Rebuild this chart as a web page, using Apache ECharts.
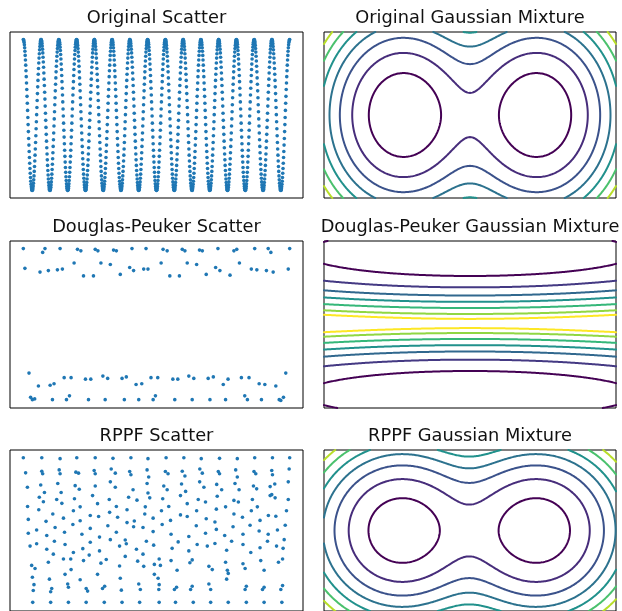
<!DOCTYPE html>
<html><head><meta charset="utf-8">
<script src="https://cdn.jsdelivr.net/npm/echarts@6/dist/echarts.min.js"></script>
<style>html,body{margin:0;padding:0;background:#fff}#c{width:622px;height:611px}</style>
</head><body><div id="c"></div>
<script>
// ---------------- data ----------------
const panelTitles = ['Original Scatter','Original Gaussian Mixture','Douglas-Peuker Scatter','Douglas-Peuker Gaussian Mixture','RPPF Scatter','RPPF Gaussian Mixture'];

// Original signal: cosine sampled uniformly, 15 periods, 1000 samples (x in periods, y in signal units)
const origPeriods = 15;
const origSamples = 1000;

// Douglas-Peuker simplified points
const dpX = [0.00,1.09,1.22,2.07,3.05,3.24,4.05,4.20,5.08,5.24,6.12,6.91,7.87,8.10,8.95,9.10,9.92,10.08,10.96,11.86,12.02,13.03,13.79,13.94,15.00,
 0.09,0.94,1.41,1.92,2.20,2.86,3.39,3.95,4.37,4.90,5.46,5.99,6.21,6.78,7.02,7.76,8.25,8.79,9.23,9.76,10.30,10.83,11.07,11.64,12.17,12.84,13.15,13.69,14.07,14.92,
 0.32,0.85,1.51,1.73,2.30,2.69,3.50,3.80,4.48,4.75,5.56,5.80,6.35,6.67,7.19,7.57,8.42,8.70,9.32,9.60,10.41,10.70,11.26,11.53,12.28,12.71,13.28,13.60,14.22,14.78,
 0.41,0.51,0.64,1.64,2.43,2.60,3.67,4.61,5.69,6.50,7.31,7.44,8.53,9.51,10.51,11.39,12.47,12.62,13.41,14.41,14.50,14.65];
const dpY = [1.00,0.95,1.00,1.00,0.99,0.97,0.99,0.97,0.98,0.97,1.00,1.00,0.99,0.97,0.99,0.97,0.98,0.97,1.00,0.97,0.99,1.00,1.00,0.95,1.00,
 0.74,0.69,0.71,0.72,0.73,0.81,0.64,0.64,0.81,0.79,0.66,0.75,0.71,0.73,0.73,0.81,0.64,0.64,0.81,0.79,0.66,0.75,0.71,0.65,0.81,0.73,0.72,0.71,0.69,0.73,
 -0.64,-0.81,-0.80,-0.78,-0.70,-0.70,-0.72,-0.72,-0.68,-0.71,-0.71,-0.69,-0.79,-0.78,-0.70,-0.70,-0.72,-0.72,-0.68,-0.71,-0.71,-0.69,-0.79,-0.72,-0.70,-0.70,-0.78,-0.79,-0.81,-0.64,
 -0.96,-0.99,-0.98,-0.99,-0.99,-0.94,-0.99,-0.99,-0.99,-0.99,-0.99,-0.94,-0.99,-0.99,-0.99,-0.99,-0.94,-0.99,-0.99,-0.99,-1.00,-0.96];

// RPPF filtered points
const rppfPoints = [
[0,0.995],[1.04,0.995],[2.07,0.982],[3.01,0.995],[4.05,0.995],[5.05,0.986],[6.06,0.995],[7.02,0.982],
[0.13,0.788],[1.04,0.810],[1.09,0.775],[2.02,0.828],[2.07,0.775],[2.96,0.797],[3.11,0.784],[3.99,0.819],[4.05,0.775],[4.95,0.841],[5.18,0.784],[5.99,0.806],[6.06,0.762],[6.97,0.828],[7.06,0.731],
[0.23,0.591],[0.98,0.621],[1.19,0.520],[1.94,0.643],[2.13,0.520],[2.92,0.613],[3.15,0.564],[3.90,0.477],[4.05,0.608],[4.90,0.665],[5.18,0.591],[5.93,0.455],[6.18,0.556],[6.97,0.643],[7.02,0.512],
[0.90,0.455],[1.13,0.393],[1.88,0.424],[2.17,0.371],[2.88,0.433],[3.20,0.323],[4.18,0.367],[4.84,0.424],[5.24,0.327],[5.84,0.283],[6.40,0.415],[6.87,0.323],[7.12,0.446],[0.24,0.327],[0.87,0.283],
[0.28,0.152],[1.28,0.125],[1.66,0.226],[2.26,0.169],[2.82,0.270],[3.20,0.134],[3.77,0.204],[4.24,0.191],[4.86,0.248],[5.31,0.182],[5.84,0.108],[6.25,0.130],[6.84,0.226],[7.31,0.169],
[0.28,-0.037],[0.75,0.007],[1.32,-0.068],[1.79,0.042],[2.32,-0.024],[2.79,0.081],[3.30,-0.051],[3.77,0.029],[4.29,-0.090],[4.76,0.064],[5.24,-0.024],[5.74,-0.130],[6.21,0.051],[6.74,0.042],[7.31,-0.015],
[0.38,-0.213],[0.75,-0.182],[1.32,-0.257],[1.75,-0.147],[2.35,-0.191],[2.82,-0.301],[3.35,-0.248],[3.77,-0.160],[4.29,-0.279],[4.90,-0.125],[5.42,-0.213],[5.80,-0.182],[6.37,-0.257],[6.74,-0.323],[6.93,-0.147],[7.34,-0.200],
[0.47,-0.477],[0.66,-0.520],[1.41,-0.433],[1.69,-0.323],[2.26,-0.389],[2.67,-0.389],[2.69,-0.534],[3.39,-0.411],[3.71,-0.336],[4.37,-0.446],[4.67,-0.397],[5.42,-0.485],[5.74,-0.354],[6.44,-0.419],[6.78,-0.490],[7.38,-0.463],
[0.51,-0.639],[0.60,-0.740],[0.56,-0.819],[1.47,-0.665],[1.60,-0.793],[1.54,-0.837],[2.35,-0.599],[2.50,-0.731],[2.54,-0.775],[3.20,-0.674],[3.54,-0.793],[3.62,-0.828],[4.18,-0.599],[4.46,-0.793],[4.58,-0.762],[5.46,-0.652],[5.52,-0.815],[6.50,-0.731],[6.59,-0.806],[7.38,-0.599],
[0.53,-0.982],[1.54,-0.982],[2.54,-0.982],[3.54,-0.982],[4.56,-0.982],[5.56,-0.982],[6.55,-0.982],
[8.04,0.995],[9.04,0.995],[10.02,0.982],[11.05,0.986],[12.05,0.982],[13.03,0.995],[14.03,0.995],[15.0,0.995],
[8.00,0.806],[8.15,0.775],[8.95,0.810],[9.10,0.744],[9.94,0.841],[10.08,0.784],[10.98,0.806],[11.05,0.775],[11.96,0.828],[12.05,0.731],[12.99,0.806],[13.09,0.775],[13.99,0.819],[14.03,0.762],[14.97,0.841],
[7.91,0.608],[8.10,0.556],[8.91,0.635],[9.14,0.534],[9.93,0.665],[10.17,0.591],[10.89,0.630],[11.17,0.556],[11.92,0.643],[12.15,0.556],[12.96,0.608],[13.14,0.569],[13.90,0.600],[13.99,0.490],[14.16,0.635],[14.92,0.665],
[7.85,0.433],[8.19,0.327],[8.85,0.477],[9.23,0.367],[9.85,0.424],[10.26,0.389],[10.92,0.468],[10.87,0.292],[11.86,0.411],[12.11,0.389],[12.90,0.424],[13.18,0.323],[13.90,0.477],[14.18,0.446],[14.92,0.424],
[7.78,0.270],[8.29,0.138],[8.85,0.213],[9.23,0.191],[9.76,0.270],[10.30,0.160],[10.79,0.116],[11.39,0.323],[11.86,0.226],[12.34,0.182],[12.84,0.270],[13.33,0.138],[13.80,0.204],[14.22,0.195],[14.82,0.270],[14.75,0.072],
[7.82,0.081],[8.32,-0.051],[8.72,-0.156],[9.32,-0.081],[9.74,0.064],[10.26,-0.037],[10.87,0.015],[11.34,-0.068],[11.81,0.051],[12.37,-0.051],[12.77,0.072],[13.28,-0.007],[13.79,-0.051],[14.31,0.007],[14.69,-0.125],
[7.65,-0.389],[8.38,-0.244],[9.32,-0.279],[9.79,-0.191],[10.36,-0.213],[10.79,-0.178],[11.45,-0.270],[11.73,-0.147],[12.37,-0.191],[12.81,-0.301],[13.33,-0.235],[13.75,-0.147],[14.26,-0.213],[14.63,-0.244],
[7.72,-0.477],[8.32,-0.411],[8.66,-0.543],[9.38,-0.441],[9.51,-0.402],[10.45,-0.490],[10.64,-0.534],[11.39,-0.433],[11.49,-0.543],[12.37,-0.455],[12.49,-0.520],[13.37,-0.411],[13.56,-0.543],[14.37,-0.433],[14.60,-0.389],
[7.59,-0.652],[7.65,-0.740],[7.63,-0.806],[8.51,-0.806],[8.63,-0.775],[9.42,-0.806],[9.51,-0.762],[10.45,-0.731],[10.55,-0.806],[11.45,-0.665],[11.54,-0.586],[12.49,-0.806],[12.56,-0.762],[13.47,-0.806],[13.56,-0.775],[14.50,-0.806],[14.60,-0.753],
[7.65,-0.982],[8.57,-0.982],[9.57,-0.982],[10.55,-0.982],[11.54,-0.982],[12.56,-0.982],[13.56,-0.982],[14.56,-0.982]
];

// Gaussian mixtures (means / spreads in the same units as the scatter data, weights relative)
const origMixMeanX = [4.06, 10.94];
const origMixMeanY = [0, 0];
const origMixWeight = [1, 1];
const origMixSdX = [2.06, 2.06];
const origMixSdY = [0.589, 0.589];
const origLevels = [0.364, 0.803, 1.242, 1.681, 2.120, 2.559, 2.998];
const origLevelColors = ['#440154','#472d7b','#3b528b','#2c728e','#21918c','#4ac16d','#b8de29'];

const dpMixMeanX = [7.5, 7.5];
const dpMixMeanY = [0.858, -0.834];
const dpMixWeight = [1, 1];
const dpMixSdX = [7.41, 7.41];
const dpMixSdY = [0.241, 0.241];
const dpLevels = [0.661, 1.471, 2.247, 2.965, 3.754, 4.575, 5.2];
const dpLevelColors = ['#440154','#443983','#31688e','#21918c','#35b779','#90d743','#fde725'];

const rppfMixMeanX = [3.98, 10.94];
const rppfMixMeanY = [0, 0];
const rppfMixWeight = [1, 1];
const rppfMixSdX = [2.188, 2.188];
const rppfMixSdY = [0.513, 0.513];
const rppfLevels = [0.300, 0.768, 1.236, 1.704, 2.172, 2.640, 3.108];
const rppfLevelColors = ['#440154','#472d7b','#3b528b','#2c728e','#21918c','#4ac16d','#b8de29'];

// ---------------- helpers ----------------
const origData = [];
for (let i = 0; i < origSamples; i++) {
  const t = origPeriods * i / (origSamples - 1);
  origData.push([t, Math.cos(2 * Math.PI * t)]);
}
const dpData = dpX.map((x, i) => [x, dpY[i]]);

function nllField(mx, my, w, sx, sy) {
  return function (x, y) {
    let s = 0;
    for (let k = 0; k < mx.length; k++) {
      const dx = (x - mx[k]) / sx[k], dy = (y - my[k]) / sy[k];
      s += w[k] * Math.exp(-0.5 * (dx * dx + dy * dy));
    }
    return -Math.log(Math.max(s, 1e-300));
  };
}

function contourPaths(vals, nx, ny, xs, ys, L) {
  const W = nx + 1, pts = {}, segs = [];
  function ep(key, type, i, j) {
    if (pts[key]) return;
    let a, b, xa, ya, xb, yb;
    if (type === 'h') { a = vals[j * W + i]; b = vals[j * W + i + 1]; xa = xs[i]; xb = xs[i + 1]; ya = yb = ys[j]; }
    else { a = vals[j * W + i]; b = vals[(j + 1) * W + i]; xa = xb = xs[i]; ya = ys[j]; yb = ys[j + 1]; }
    const t = (L - a) / (b - a);
    pts[key] = [xa + t * (xb - xa), ya + t * (yb - ya)];
  }
  for (let j = 0; j < ny; j++) for (let i = 0; i < nx; i++) {
    const a0 = vals[j * W + i] > L, a1 = vals[j * W + i + 1] > L, a2 = vals[(j + 1) * W + i + 1] > L, a3 = vals[(j + 1) * W + i] > L;
    const idx = (a0 ? 1 : 0) | (a1 ? 2 : 0) | (a2 ? 4 : 0) | (a3 ? 8 : 0);
    if (idx === 0 || idx === 15) continue;
    const eB = 'h' + i + '_' + j, eR = 'v' + (i + 1) + '_' + j, eT = 'h' + i + '_' + (j + 1), eL = 'v' + i + '_' + j;
    const cr = [];
    if (a0 !== a1) { ep(eB, 'h', i, j); cr.push(eB); }
    if (a1 !== a2) { ep(eR, 'v', i + 1, j); cr.push(eR); }
    if (a2 !== a3) { ep(eT, 'h', i, j + 1); cr.push(eT); }
    if (a3 !== a0) { ep(eL, 'v', i, j); cr.push(eL); }
    if (cr.length === 2) segs.push(cr);
    else if (cr.length === 4) {
      const c = (vals[j * W + i] + vals[j * W + i + 1] + vals[(j + 1) * W + i + 1] + vals[(j + 1) * W + i]) / 4 > L;
      if (idx === 5) { if (c) { segs.push([eB, eR], [eL, eT]); } else { segs.push([eL, eB], [eR, eT]); } }
      else { if (c) { segs.push([eL, eB], [eR, eT]); } else { segs.push([eB, eR], [eL, eT]); } }
    }
  }
  const adj = {};
  segs.forEach((s, k) => { (adj[s[0]] = adj[s[0]] || []).push(k); (adj[s[1]] = adj[s[1]] || []).push(k); });
  const used = new Array(segs.length).fill(false), paths = [];
  for (let k = 0; k < segs.length; k++) {
    if (used[k]) continue;
    used[k] = true;
    const chain = [segs[k][0], segs[k][1]];
    let cur = chain[1];
    while (true) {
      const nb = (adj[cur] || []).find(m => !used[m]);
      if (nb === undefined) break;
      used[nb] = true; cur = segs[nb][0] === cur ? segs[nb][1] : segs[nb][0]; chain.push(cur);
    }
    cur = chain[0];
    while (true) {
      const nb = (adj[cur] || []).find(m => !used[m]);
      if (nb === undefined) break;
      used[nb] = true; cur = segs[nb][0] === cur ? segs[nb][1] : segs[nb][0]; chain.unshift(cur);
    }
    paths.push(chain.map(key => pts[key]));
  }
  return paths;
}

function contourSeries(field, levels, colors, ai) {
  const nx = 260, ny = 150, x0 = 0, x1 = 15, y0 = -1, y1 = 1;
  const xs = [], ys = [];
  for (let i = 0; i <= nx; i++) xs.push(x0 + (x1 - x0) * i / nx);
  for (let j = 0; j <= ny; j++) ys.push(y0 + (y1 - y0) * j / ny);
  const vals = new Float64Array((nx + 1) * (ny + 1));
  for (let j = 0; j <= ny; j++) for (let i = 0; i <= nx; i++) vals[j * (nx + 1) + i] = field(xs[i], ys[j]);
  return levels.map((L, k) => ({
    type: 'lines', coordinateSystem: 'cartesian2d', xAxisIndex: ai, yAxisIndex: ai,
    polyline: true, silent: true, animation: false, z: 3,
    lineStyle: { color: colors[k], width: 2, opacity: 1, cap: 'round', join: 'round' },
    data: contourPaths(vals, nx, ny, xs, ys, L).map(p => ({ coords: p }))
  }));
}

// ---------------- layout ----------------
const grids = [
  { left: 10, top: 32, width: 293, height: 166 },
  { left: 324, top: 32, width: 292, height: 166 },
  { left: 10, top: 241, width: 293, height: 167 },
  { left: 324, top: 241, width: 292, height: 167 },
  { left: 10, top: 450, width: 293, height: 166 },
  { left: 324, top: 450, width: 292, height: 166 }
].map(g => Object.assign(g, { show: true, borderColor: '#000', borderWidth: 1, backgroundColor: '#fff' }));

const isScatter = i => i % 2 === 0;
const xAxes = grids.map((g, i) => ({ type: 'value', gridIndex: i, show: false, min: isScatter(i) ? -0.75 : 0, max: isScatter(i) ? 15.75 : 15 }));
const yAxes = grids.map((g, i) => ({ type: 'value', gridIndex: i, show: false, min: isScatter(i) ? -1.1 : -1, max: isScatter(i) ? 1.1 : 1 }));

const titleY = [18.7, 227, 436.4];
const graphics = panelTitles.map((t, i) => ({
  type: 'text', x: i % 2 === 0 ? 156.5 : 470, y: titleY[Math.floor(i / 2)], silent: true,
  style: { text: t, fontSize: 17.8, fontFamily: '"DejaVu Sans"', fill: '#111', align: 'center', verticalAlign: 'middle' }
}));

function scatterSeries(data, ai) {
  return { type: 'scatter', xAxisIndex: ai, yAxisIndex: ai, data: data, symbol: 'circle', symbolSize: 3.6,
    itemStyle: { color: '#1f77b4', opacity: 1 }, silent: true, animation: false, z: 3 };
}

const series = [
  scatterSeries(origData, 0),
  ...contourSeries(nllField(origMixMeanX, origMixMeanY, origMixWeight, origMixSdX, origMixSdY), origLevels, origLevelColors, 1),
  scatterSeries(dpData, 2),
  ...contourSeries(nllField(dpMixMeanX, dpMixMeanY, dpMixWeight, dpMixSdX, dpMixSdY), dpLevels, dpLevelColors, 3),
  scatterSeries(rppfPoints, 4),
  ...contourSeries(nllField(rppfMixMeanX, rppfMixMeanY, rppfMixWeight, rppfMixSdX, rppfMixSdY), rppfLevels, rppfLevelColors, 5)
];

const chart = echarts.init(document.getElementById('c'), null, { renderer: 'canvas' });
chart.setOption({
  animation: false,
  backgroundColor: '#fff',
  grid: grids,
  xAxis: xAxes,
  yAxis: yAxes,
  graphic: graphics,
  series: series
});
</script>
</body></html>
